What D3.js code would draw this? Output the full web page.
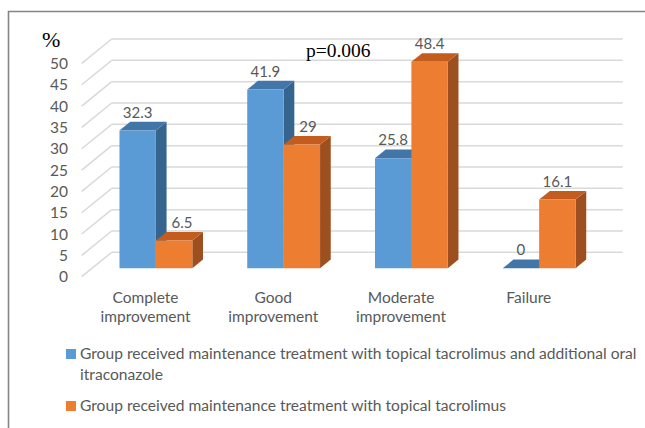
<!DOCTYPE html>
<html>
<head>
<meta charset="utf-8">
<script src="https://cdn.jsdelivr.net/npm/d3@7"></script>
<style>
  html, body { margin: 0; padding: 0; background: #fff; }
  svg { display: block; }
</style>
</head>
<body>
<svg id="chart" width="645" height="428"></svg>
<script>
// Outcome categories and the percentage reached by each treatment group
const categories = [["Complete", "improvement"], ["Good", "improvement"], ["Moderate", "improvement"], ["Failure"]];
const seriesNames = [
  "Group received maintenance treatment with topical tacrolimus and additional oral itraconazole",
  "Group received maintenance treatment with topical tacrolimus"
];
const tacrolimusItraconazole = [32.3, 41.9, 25.8, 0];
const tacrolimusOnly = [6.5, 29, 48.4, 16.1];
const yTicks = [0, 5, 10, 15, 20, 25, 30, 35, 40, 45, 50];
const pValueText = "p=0.006";

const series = [tacrolimusItraconazole, tacrolimusOnly];
const faceColors = [
  { front: "#5b9bd5", top: "#4276a8", side: "#35648e" },
  { front: "#ed7d31", top: "#c25c1f", side: "#9d4f1f" }
];
const textGray = "#595959";
const sans = "Lato, 'Open Sans', sans-serif";
const serif = "'Liberation Serif', 'DejaVu Serif', serif";

const svg = d3.select("#chart");
svg.append("rect").attr("width", 645).attr("height", 428).attr("fill", "#fff");

// Frame (open on the right and bottom edges)
svg.append("path")
  .attr("d", "M8.5,428 V11.5 H645")
  .attr("fill", "none").attr("stroke", "#858585").attr("stroke-width", 1.6);

// Oblique 3D projection: depth t runs from 0 (front) to 1 (back wall)
const DX = 30, DY = 24.4;
const y = d3.scaleLinear().domain([0, 50]).range([276.7, 63.4]);
const x0 = d3.scaleBand().domain(d3.range(categories.length))
  .range([81.7, 592.7]).paddingInner(0.43).paddingOuter(0.215);
const x1 = d3.scaleBand().domain(d3.range(series.length)).range([0, x0.bandwidth()]);
const P = (u, v, t) => [u + DX * t, y(v) - DY * t];
const poly = pts => "M" + pts.map(p => p.join(",")).join("L") + "Z";

const [uMin, uMax] = x0.range();

// Back wall gridlines and left wall diagonals
const grid = svg.append("g").attr("stroke", "#d9d9d9").attr("stroke-width", 1.5).attr("fill", "none");
yTicks.forEach(v => {
  const a = P(uMin, v, 1), b = P(uMax, v, 1), c = P(uMin, v, 0);
  grid.append("line").attr("x1", a[0]).attr("y1", a[1]).attr("x2", b[0]).attr("y2", b[1]);
  grid.append("line").attr("x1", c[0]).attr("y1", c[1]).attr("x2", a[0]).attr("y2", a[1]);
});

// Y axis tick labels
svg.append("g").selectAll("text").data(yTicks).join("text")
  .attr("x", 68).attr("y", d => y(d)).attr("dy", "0.36em")
  .attr("text-anchor", "end").attr("fill", textGray)
  .style("font-family", sans).style("font-size", "15.5px")
  .text(d => d);

svg.append("text").attr("x", 42).attr("y", 47)
  .style("font-family", serif).style("font-size", "22px").attr("fill", "#000")
  .text("%");

// 3D columns
const tF = 0.344, tB = 0.70;
const bars = svg.append("g");
categories.forEach((cat, i) => {
  series.forEach((vals, s) => {
    const v = vals[i];
    const uL = x0(i) + x1(s), uR = uL + x1.bandwidth();
    const col = faceColors[s];
    const g = bars.append("g");
    // right side face
    g.append("path").attr("fill", col.side)
      .attr("d", poly([P(uR, 0, tF), P(uR, 0, tB), P(uR, v, tB), P(uR, v, tF)]));
    // top face
    g.append("path").attr("fill", col.top)
      .attr("d", poly([P(uL, v, tF), P(uR, v, tF), P(uR, v, tB), P(uL, v, tB)]));
    // front face
    g.append("path").attr("fill", col.front)
      .attr("d", poly([P(uL, 0, tF), P(uR, 0, tF), P(uR, v, tF), P(uL, v, tF)]));
  });
});

// Value labels, centred over each column's front face; a label that would
// sit over the taller neighbouring column's side face is nudged clear of it
const labels = svg.append("g").attr("fill", textGray)
  .style("font-family", sans).style("font-size", "15px").attr("text-anchor", "middle");
categories.forEach((cat, i) => {
  series.forEach((vals, s) => {
    const v = vals[i];
    const uC = x0(i) + x1(s) + x1.bandwidth() / 2;
    const p = P(uC, v, tF);
    const t = labels.append("text").attr("x", p[0]).attr("y", p[1] - 13).text(v);
    if (s > 0) {
      const prev = series[s - 1][i];
      const sideRight = P(x0(i) + x1(s - 1) + x1.bandwidth(), prev, tB)[0];
      const w = t.node().getComputedTextLength();
      if (prev > v && p[0] - w / 2 < sideRight + 5) {
        t.attr("x", sideRight + 5 + w / 2);
      }
    }
  });
});

// Category labels
const cats = svg.append("g").attr("fill", textGray)
  .style("font-family", sans).style("font-size", "15.5px").attr("text-anchor", "middle");
categories.forEach((lines, i) => {
  const cx = x0(i) + x0.bandwidth() / 2;
  const t = cats.append("text").attr("x", cx).attr("y", 303);
  lines.forEach((ln, k) => t.append("tspan").attr("x", cx).attr("y", 303 + k * 19).text(ln));
});

// Significance annotation
svg.append("text").attr("x", 306).attr("y", 56.5)
  .style("font-family", serif).style("font-size", "19.5px").attr("fill", "#000")
  .text(pValueText);

// Legend
const legendRows = [
  { lines: ["Group received maintenance treatment with topical tacrolimus and additional oral", "itraconazole"], y: 359 },
  { lines: [seriesNames[1]], y: 411 }
];
legendRows.forEach((row, s) => {
  svg.append("rect").attr("x", 66).attr("y", row.y - 10).attr("width", 10).attr("height", 10)
    .attr("fill", faceColors[s].front);
  const t = svg.append("text").attr("fill", textGray)
    .style("font-family", sans).style("font-size", "15.6px");
  row.lines.forEach((ln, k) => t.append("tspan").attr("x", 80).attr("y", row.y + k * 21).text(ln));
});
</script>
</body>
</html>
